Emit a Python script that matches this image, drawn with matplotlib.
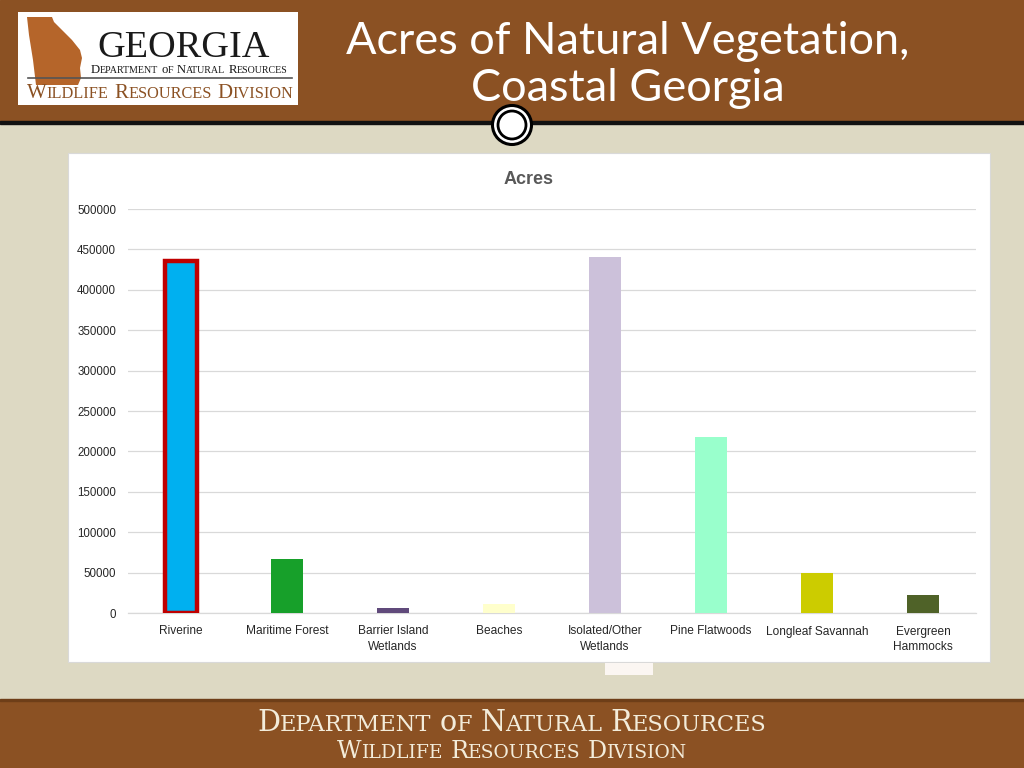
import matplotlib
matplotlib.use("Agg")
import matplotlib.pyplot as plt
from matplotlib.patches import Rectangle, Circle, Polygon
from matplotlib.offsetbox import TextArea, HPacker, AnnotationBbox

# ---------------- data ----------------
categories = ["Riverine", "Maritime Forest", "Barrier Island\nWetlands", "Beaches",
              "Isolated/Other\nWetlands", "Pine Flatwoods", "Longleaf Savannah",
              "Evergreen\nHammocks"]
acres = [436000, 66500, 6000, 11000, 441000, 218000, 49500, 22300]
bar_colors = ["#00B0F0", "#17A02A", "#604A7B", "#FFFFCC", "#CCC1DA", "#99FFCC",
              "#CCCC00", "#4F6228"]
y_ticks = [0, 50000, 100000, 150000, 200000, 250000, 300000, 350000, 400000, 450000, 500000]
chart_title = "Acres"
slide_title = "Acres of Natural Vegetation,\nCoastal Georgia"

W, H = 1024, 768
fig = plt.figure(figsize=(W / 100, H / 100), dpi=100)

BROWN = "#8B5123"
BEIGE = "#DDD9C3"
CREAM = "#F3ECDA"

# background axes in pixel coordinates
bg = fig.add_axes([0, 0, 1, 1])
bg.set_xlim(0, W)
bg.set_ylim(H, 0)
bg.axis("off")
bg.add_patch(Rectangle((0, 0), W, H, color=BEIGE, zorder=0))
bg.add_patch(Rectangle((0, 0), W, 122, color=BROWN, zorder=1))
bg.add_patch(Rectangle((0, 121), W, 3, color="#111111", zorder=2))
bg.add_patch(Rectangle((0, 700), W, 68, color=BROWN, zorder=1))
bg.add_patch(Rectangle((0, 699), W, 1.5, color="#6E3E18", zorder=2))

# chart box
bg.add_patch(Rectangle((68, 153), 922, 509, facecolor="white", edgecolor="#D9D9D9",
                       lw=0.8, zorder=1))
# small pasted fragment below the chart box
bg.add_patch(Rectangle((605, 663), 48, 12, facecolor="#FBF6F2", edgecolor="none", zorder=1))

# circle ornament
bg.add_patch(Circle((512, 125), 19.5, facecolor="white", edgecolor="black", lw=2.2, zorder=5))
bg.add_patch(Circle((512, 125), 14, facecolor="white", edgecolor="black", lw=2.0, zorder=6))

# slide title
bg.text(628, 65, slide_title, ha="center", va="center", color="white",
        fontsize=32.5, family="Lato", fontweight="normal", linespacing=1.2, zorder=4)

# logo
bg.add_patch(Rectangle((18, 12), 280, 93, facecolor="white", edgecolor="none", zorder=3))
ga_shape = [(27, 17), (52, 17), (54, 22), (62, 30), (72, 40), (80, 50), (82, 58),
            (80, 68), (81, 78), (78, 85), (36, 85), (33, 60), (29, 35)]
bg.add_patch(Polygon(ga_shape, closed=True, facecolor="#B5652A", edgecolor="none", zorder=4))
bg.text(184, 57, "GEORGIA", ha="center", va="baseline", fontsize=27.5, family="Liberation Serif",
        color="#1A1A1A", zorder=5)
bg.plot([28, 292], [78, 78], color="#555555", lw=1.2, zorder=5)


def small_caps(text, big, small, color, family):
    parts = []
    for wi, word in enumerate(text.split(" ")):
        boxes = [TextArea(word[0], textprops=dict(fontsize=big, color=color, family=family))]
        if len(word) > 1:
            boxes.append(TextArea(word[1:].upper(),
                                  textprops=dict(fontsize=small, color=color, family=family)))
        parts.append(HPacker(children=boxes, align="baseline", pad=0, sep=0))
    return HPacker(children=parts, align="baseline", pad=0, sep=big * 0.28)


def place(box, x, y, z=6):
    ab = AnnotationBbox(box, (x, y), xycoords="data", frameon=False, box_alignment=(0.5, 0.5),
                        pad=0, zorder=z)
    bg.add_artist(ab)


place(small_caps("Department of Natural Resources", 9.2, 7.2, "#1A1A1A", "Liberation Serif"), 189, 70)
place(small_caps("Wildlife Resources Division", 15, 11.7, "#8B5123", "Liberation Serif"), 160, 94)

# footer
place(small_caps("Department of Natural Resources", 20.6, 16.2, CREAM, "DejaVu Serif"), 512, 723)
place(small_caps("Wildlife Resources Division", 17.2, 13.5, CREAM, "DejaVu Serif"), 512, 751)

# chart title
bg.text(529, 179, chart_title, ha="center", va="center", fontsize=13, fontweight="bold",
        color="#595959", family="Liberation Sans", zorder=4)

# ---------------- chart axes ----------------
x0, x1 = 128, 976
y_top, y_bot = 209, 613
ax = fig.add_axes([x0 / W, (H - y_bot) / H, (x1 - x0) / W, (y_bot - y_top) / H])
ax.set_facecolor("none")
pos = list(range(len(categories)))
bars = ax.bar(pos, acres, width=0.31, color=bar_colors, zorder=3)
bars[0].set_edgecolor("#C00000")
bars[0].set_linewidth(3.2)
ax.set_xlim(-0.5, len(categories) - 0.5)
ax.set_ylim(0, 500000)
ax.set_yticks(y_ticks)
ax.set_yticklabels([str(v) for v in y_ticks])
ax.set_xticks(pos)
ax.set_xticklabels(categories, linespacing=1.35)
ax.tick_params(axis="y", length=0, labelsize=8.3, labelcolor="#262626",
               labelfontfamily="Liberation Sans", pad=8.6)
ax.tick_params(axis="x", length=0, labelsize=8.6, labelcolor="#262626",
               labelfontfamily="Liberation Sans", pad=9)
ax.grid(axis="y", color="#D9D9D9", lw=0.9, zorder=0)
for s in ["top", "right", "left"]:
    ax.spines[s].set_visible(False)
ax.spines["bottom"].set_color("#D9D9D9")
ax.spines["bottom"].set_linewidth(0.9)

fig.savefig("out.png", dpi=100)
